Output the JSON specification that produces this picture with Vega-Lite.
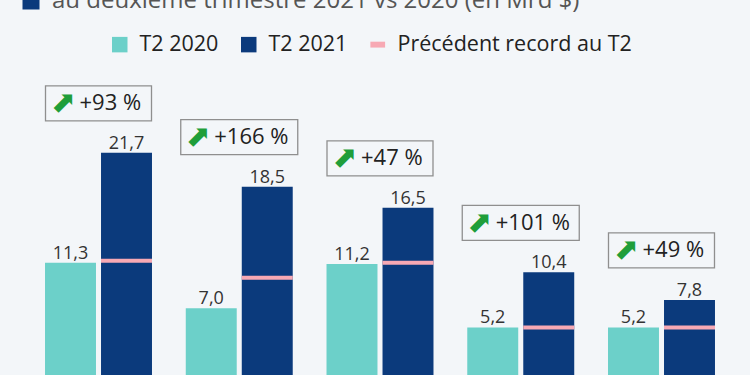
{
  "$schema": "https://vega.github.io/schema/vega-lite/v6.json",
  "width": 740,
  "height": 310,
  "padding": {"left": 10, "top": 65, "right": 0, "bottom": 0},
  "autosize": {"type": "none"},
  "background": "#f3f6f9",
  "config": {
    "view": {"stroke": null},
    "locale": {"number": {"decimal": ",", "thousands": " ", "grouping": [3], "currency": ["", " $"]}},
    "font": "Open Sans"
  },
  "datasets": {
    "bars": [
      {"cat": "Apple", "series": "T2 2020", "value": 11.3},
      {"cat": "Apple", "series": "T2 2021", "value": 21.7},
      {"cat": "Alphabet", "series": "T2 2020", "value": 7.0},
      {"cat": "Alphabet", "series": "T2 2021", "value": 18.5},
      {"cat": "Microsoft", "series": "T2 2020", "value": 11.2},
      {"cat": "Microsoft", "series": "T2 2021", "value": 16.5},
      {"cat": "Facebook", "series": "T2 2020", "value": 5.2},
      {"cat": "Facebook", "series": "T2 2021", "value": 10.4},
      {"cat": "Amazon", "series": "T2 2020", "value": 5.2},
      {"cat": "Amazon", "series": "T2 2021", "value": 7.8}
    ],
    "groups": [
      {"cat": "Apple", "v2021": 21.7, "record": 11.5, "pct": "+93 %"},
      {"cat": "Alphabet", "v2021": 18.5, "record": 9.9, "pct": "+166 %"},
      {"cat": "Microsoft", "v2021": 16.5, "record": 11.3, "pct": "+47 %"},
      {"cat": "Facebook", "v2021": 10.4, "record": 5.2, "pct": "+101 %"},
      {"cat": "Amazon", "v2021": 7.8, "record": 5.2, "pct": "+49 %"}
    ],
    "legendItems": [
      {"series": "T2 2020"},
      {"series": "T2 2021"},
      {"series": "Précédent record au T2"}
    ],
    "titleItem": [
      {"label": "au deuxième trimestre 2021 vs 2020 (en Mrd $)"}
    ]
  },
  "encoding": {
    "x": {
      "field": "cat",
      "type": "nominal",
      "axis": null,
      "scale": {
        "domain": ["Apple", "Alphabet", "Microsoft", "Facebook", "Amazon"],
        "paddingInner": 0.24,
        "paddingOuter": 0.2488
      }
    },
    "y": {
      "type": "quantitative",
      "axis": null,
      "scale": {"domain": [0.7, 30], "nice": false, "zero": false}
    }
  },
  "layer": [
    {
      "data": {"name": "legendItems"},
      "mark": {"type": "point", "filled": true, "opacity": 1},
      "encoding": {
        "x": {"datum": "Apple"},
        "y": {"datum": 0},
        "color": {
          "field": "series",
          "type": "nominal",
          "scale": {
            "domain": ["T2 2020", "T2 2021", "Précédent record au T2"],
            "range": ["#6cd0c9", "#0b3a7c", "#f7a9b4"]
          },
          "legend": {
            "title": null,
            "orient": "none",
            "direction": "horizontal",
            "legendX": 99,
            "legendY": -31.5,
            "labelFont": "Open Sans",
            "labelFontSize": 21.5,
            "labelColor": "#222222",
            "labelOffset": 9,
            "labelLimit": 0,
            "columnPadding": 19,
            "symbolSize": 240,
            "symbolOpacity": 1,
            "symbolStrokeWidth": 0
          }
        },
        "shape": {
          "field": "series",
          "type": "nominal",
          "scale": {
            "domain": ["T2 2020", "T2 2021", "Précédent record au T2"],
            "range": ["square", "square", "M-0.95,-0.38H0.95V0.38H-0.95Z"]
          },
          "legend": {"title": null}
        }
      }
    },
    {
      "data": {"name": "titleItem"},
      "mark": {"type": "point", "filled": true, "opacity": 0},
      "encoding": {
        "x": {"datum": "Apple"},
        "y": {"datum": 0},
        "fill": {
          "field": "label",
          "type": "nominal",
          "scale": {"range": ["#0b3a7c"]},
          "legend": {
            "title": null,
            "orient": "none",
            "legendX": 9,
            "legendY": -76,
            "symbolType": "square",
            "symbolSize": 289,
            "symbolOpacity": 1,
            "symbolStrokeWidth": 0,
            "labelFont": "Open Sans",
            "labelFontSize": 24,
            "labelColor": "#555555",
            "labelOffset": 9,
            "labelLimit": 0
          }
        }
      }
    },
    {
      "data": {"name": "bars"},
      "mark": {"type": "bar"},
      "encoding": {
        "xOffset": {
          "field": "series",
          "type": "nominal",
          "scale": {"domain": ["T2 2020", "T2 2021"], "paddingInner": 0.09, "paddingOuter": 0}
        },
        "y": {"field": "value", "type": "quantitative"},
        "y2": {"datum": 0},
        "color": {"field": "series", "type": "nominal"}
      }
    },
    {
      "data": {"name": "bars"},
      "mark": {"type": "text", "baseline": "alphabetic", "dy": -4, "fontSize": 18, "font": "Open Sans", "color": "#333333"},
      "encoding": {
        "xOffset": {"field": "series", "type": "nominal"},
        "y": {"field": "value", "type": "quantitative"},
        "text": {"field": "value", "type": "quantitative", "format": ".1f"}
      }
    },
    {
      "data": {"name": "groups"},
      "mark": {"type": "tick", "thickness": 4, "size": 51, "color": "#f7a9b4", "opacity": 1},
      "encoding": {
        "xOffset": {"datum": "T2 2021"},
        "y": {"field": "record", "type": "quantitative"}
      }
    },
    {
      "data": {"name": "groups"},
      "transform": [{"filter": "length(datum.pct) <= 5"}],
      "mark": {"type": "bar", "width": 106, "yOffset": -67, "y2Offset": -32, "fill": "#f3f6f9", "stroke": "#8f8f8f", "strokeWidth": 1.3},
      "encoding": {
        "y": {"field": "v2021", "type": "quantitative"},
        "y2": {"field": "v2021"}
      }
    },
    {
      "data": {"name": "groups"},
      "transform": [{"filter": "length(datum.pct) > 5"}],
      "mark": {"type": "bar", "width": 117, "yOffset": -67, "y2Offset": -32, "fill": "#f3f6f9", "stroke": "#8f8f8f", "strokeWidth": 1.3},
      "encoding": {
        "y": {"field": "v2021", "type": "quantitative"},
        "y2": {"field": "v2021"}
      }
    },
    {
      "data": {"name": "groups"},
      "transform": [{"filter": "length(datum.pct) <= 5"}],
      "mark": {"type": "text", "text": "⬈", "font": "DejaVu Sans", "fontSize": 30, "color": "#1f9e3a", "align": "center", "baseline": "middle", "dx": -35, "dy": -49.5},
      "encoding": {
        "y": {"field": "v2021", "type": "quantitative"}
      }
    },
    {
      "data": {"name": "groups"},
      "transform": [{"filter": "length(datum.pct) > 5"}],
      "mark": {"type": "text", "text": "⬈", "font": "DejaVu Sans", "fontSize": 30, "color": "#1f9e3a", "align": "center", "baseline": "middle", "dx": -41, "dy": -49.5},
      "encoding": {
        "y": {"field": "v2021", "type": "quantitative"}
      }
    },
    {
      "data": {"name": "groups"},
      "transform": [{"filter": "length(datum.pct) <= 5"}],
      "mark": {"type": "text", "font": "Open Sans", "fontSize": 22, "color": "#222222", "align": "left", "baseline": "middle", "dx": -19, "dy": -49.5},
      "encoding": {
        "y": {"field": "v2021", "type": "quantitative"},
        "text": {"field": "pct", "type": "nominal"}
      }
    },
    {
      "data": {"name": "groups"},
      "transform": [{"filter": "length(datum.pct) > 5"}],
      "mark": {"type": "text", "font": "Open Sans", "fontSize": 22, "color": "#222222", "align": "left", "baseline": "middle", "dx": -25, "dy": -49.5},
      "encoding": {
        "y": {"field": "v2021", "type": "quantitative"},
        "text": {"field": "pct", "type": "nominal"}
      }
    }
  ]
}
